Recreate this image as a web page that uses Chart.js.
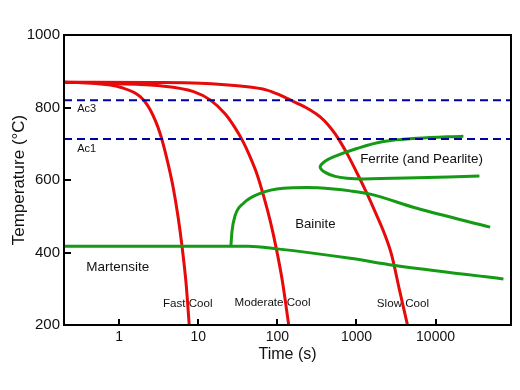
<!DOCTYPE html>
<html><head><meta charset="utf-8">
<script src="https://cdn.jsdelivr.net/npm/chart.js@4.4.1/dist/chart.umd.min.js"></script>
<style>html,body{margin:0;padding:0;background:#fff;}#wrap{width:520px;height:390px;}</style>
</head><body><div id="wrap"><canvas id="c" width="520" height="390"></canvas></div>
<script>
// ---- data ----
const xTicks = [1, 10, 100, 1000, 10000];
const yTicks = [200, 400, 600, 800, 1000];
const xRange = [0.2, 90000];
const yRange = [200, 1000];

const ac3Temp = 820;
const ac1Temp = 713;

const fastTime = [0.2, 0.575, 1.03, 1.84, 2.47, 3.30, 4.04, 4.82, 5.57, 6.26, 7.03, 7.67];
const fastTemp = [870, 865, 856, 830, 793, 727, 655, 578, 495, 412, 310, 200];

const modTime = [0.2, 0.77, 3.3, 8.7, 14.1, 21.9, 29.3, 36.9, 45.3, 55.6, 68.1, 81.1, 96.6, 115, 139];
const modTemp = [870, 866, 860, 844, 821, 782, 743, 705, 663, 614, 550, 487, 412, 324, 200];

const slowTime = [0.2, 2.47, 10.6, 33.9, 73.7, 108, 145, 194, 260, 347, 439, 538, 641, 764, 1012, 1327, 1723, 2239, 2787, 3519, 4416];
const slowTemp = [870, 869, 867, 859, 848, 834, 821, 808, 793, 774, 752, 727, 701, 672, 620, 567, 512, 454, 393, 294, 200];

const msTime = [0.2, 42.7, 98.6, 832, 2939, 72200];
const msTemp = [417, 417, 410, 384, 365, 327];

const bainTime = [25.8, 26.6, 29.3, 37.3, 60.6, 119, 236, 512, 832, 1490, 5800, 49000];
const bainTemp = [417, 457, 503, 536, 563, 577, 579, 575, 570, 561, 522, 470];

const ferTime = [22500, 5800, 2195, 1012, 512, 402, 347, 402, 538, 756, 1225, 5800, 35900];
const ferTemp = [721, 715, 706, 687, 664, 652, 636, 621, 610, 605, 603, 606, 611];

// region / curve labels: text, time, temperature, font size
const labelText = ['Ac3', 'Ac1', 'Martensite', 'Fast Cool', 'Moderate Cool', 'Slow Cool', 'Bainite', 'Ferrite (and Pearlite)'];
const labelTime = [0.294, 0.294, 0.383, 3.57, 28.7, 1811, 168, 1114];
const labelTemp = [796, 686, 360, 258, 261, 258, 477, 658];
const labelSize = [11, 11, 13.5, 11.6, 11.6, 11.6, 13.2, 13.4];

// ---- chart ----
const pts = (xs, ys) => xs.map((x, i) => ({x: x, y: ys[i]}));
const RED = '#e60a0a', GREEN = '#159a15', BLUE = '#00009e';
const FONT = "'Liberation Sans', Arial, sans-serif";

const lineDs = (data, color, width, extra) => Object.assign({
  data: data, borderColor: color, borderWidth: width, pointRadius: 0,
  fill: false, cubicInterpolationMode: 'monotone', borderCapStyle: 'butt', borderJoinStyle: 'round'
}, extra || {});

const framePlugin = {
  id: 'frame',
  beforeDatasetsDraw(chart) {
    const ctx = chart.ctx, xs = chart.scales.x, ys = chart.scales.y;
    ctx.save();
    ctx.fillStyle = '#111';
    ctx.textAlign = 'left';
    ctx.textBaseline = 'middle';
    labelText.forEach((t, i) => {
      ctx.font = labelSize[i] + 'px ' + FONT;
      ctx.fillText(t, xs.getPixelForValue(labelTime[i]), ys.getPixelForValue(labelTemp[i]));
    });
    ctx.restore();
  },
  afterDraw(chart) {
    const ctx = chart.ctx, a = chart.chartArea, xs = chart.scales.x, ys = chart.scales.y;
    ctx.save();
    ctx.strokeStyle = '#000';
    ctx.lineWidth = 2;
    ctx.beginPath();
    xTicks.forEach(v => { const p = Math.round(xs.getPixelForValue(v)); ctx.moveTo(p, a.bottom); ctx.lineTo(p, a.bottom - 6); });
    yTicks.forEach(v => { const p = Math.round(ys.getPixelForValue(v)); ctx.moveTo(a.left, p); ctx.lineTo(a.left + 7, p); });
    ctx.stroke();
    ctx.strokeRect(a.left, a.top, a.right - a.left, a.bottom - a.top);
    ctx.restore();
  }
};

new Chart(document.getElementById('c'), {
  type: 'line',
  data: {
    datasets: [
      lineDs([{x: xRange[0], y: ac3Temp}, {x: xRange[1], y: ac3Temp}], BLUE, 2, {borderDash: [8, 5], cubicInterpolationMode: 'default', tension: 0}),
      lineDs([{x: xRange[0], y: ac1Temp}, {x: xRange[1], y: ac1Temp}], BLUE, 2, {borderDash: [8, 5], cubicInterpolationMode: 'default', tension: 0}),
      lineDs(pts(msTime, msTemp), GREEN, 3),
      lineDs(pts(bainTime, bainTemp), GREEN, 3),
      lineDs(pts(ferTime, ferTemp), GREEN, 3, {cubicInterpolationMode: 'default', tension: 0.35}),
      lineDs(pts(fastTime, fastTemp), RED, 3),
      lineDs(pts(modTime, modTemp), RED, 3),
      lineDs(pts(slowTime, slowTemp), RED, 3)
    ]
  },
  options: {
    responsive: false,
    animation: false,
    layout: {padding: {top: 35, right: 9, left: 0, bottom: 0}},
    plugins: {legend: {display: false}, tooltip: {enabled: false}},
    scales: {
      x: {
        type: 'logarithmic', min: xRange[0], max: xRange[1],
        grid: {display: false, drawTicks: false}, border: {display: false},
        afterBuildTicks: s => { s.ticks = xTicks.map(v => ({value: v})); },
        afterFit: s => { s.height = 65; },
        ticks: {color: '#111', font: {family: FONT, size: 14}, padding: 4, maxRotation: 0, autoSkip: false, callback: v => String(v)},
        title: {display: true, text: 'Time (s)', color: '#111', font: {family: FONT, size: 16}, padding: {top: 0, bottom: 26}}
      },
      y: {
        type: 'linear', min: yRange[0], max: yRange[1],
        grid: {display: false, drawTicks: false}, border: {display: false},
        afterBuildTicks: s => { s.ticks = yTicks.map(v => ({value: v})); },
        afterFit: s => { s.width = 64; },
        ticks: {color: '#111', font: {family: FONT, size: 15}, padding: 4, callback: v => String(v)},
        title: {display: true, text: 'Temperature (°C)', color: '#111', font: {family: FONT, size: 17}, padding: {top: 9, bottom: 0}}
      }
    }
  },
  plugins: [framePlugin]
});
</script>
</body></html>
